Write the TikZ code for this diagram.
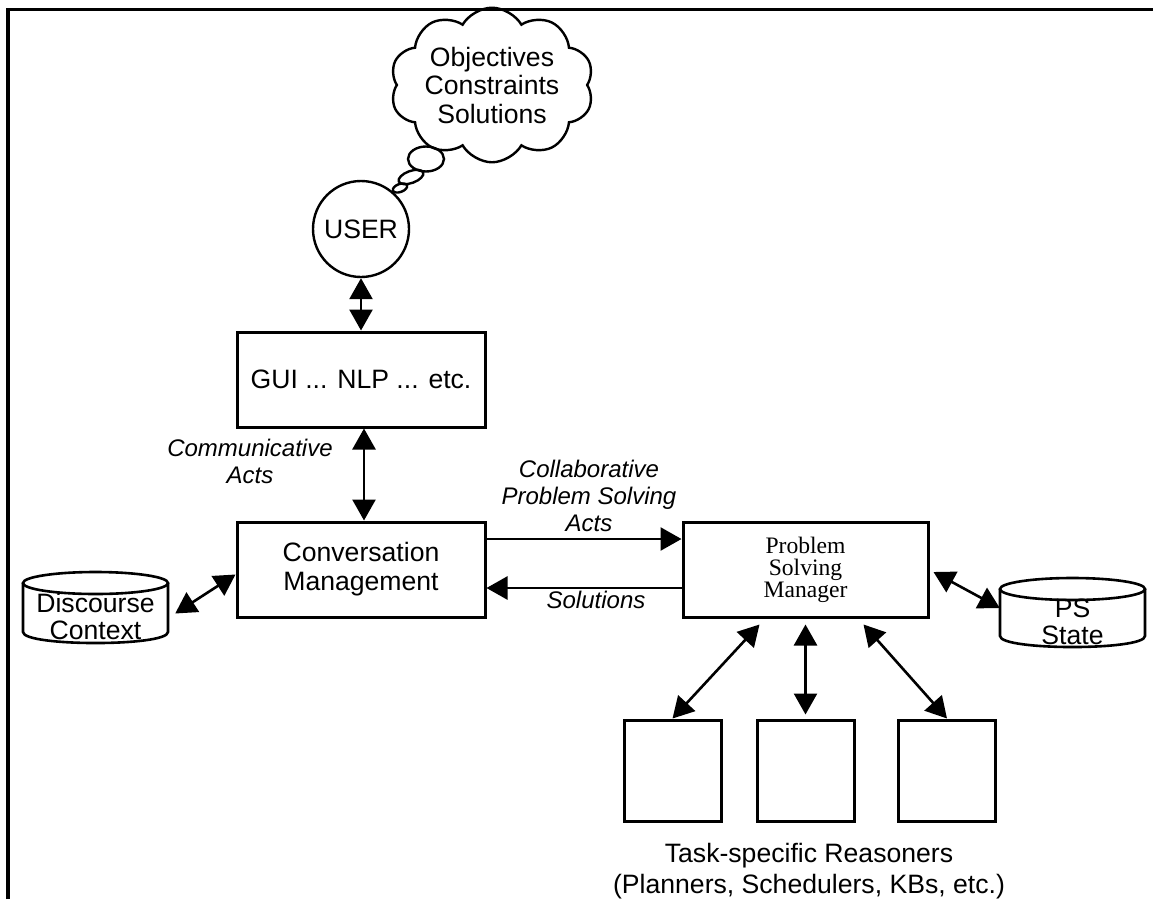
\documentclass[tikz,border=0pt]{standalone}
\usepackage{fontspec}
\setmainfont{Liberation Sans}
\newfontfamily\psmfont{Liberation Serif}
\usetikzlibrary{arrows.meta,calc,shapes.geometric,shapes.symbols}

\tikzset{
  box/.style={draw, line width=3pt, minimum width=248pt, minimum height=95pt, align=center, font=\fontsize{26.6}{29}\selectfont},
  reasoner/.style={draw, line width=3pt, minimum width=97pt, minimum height=101pt},
  store/.style={minimum width=145pt, minimum height=54pt, align=center, font=\fontsize{26.6}{27}\selectfont},
  can/.style={line width=2.6pt},
  act/.style={align=center, font=\fontsize{24}{27}\selectfont\itshape},
  link/.style={line width=2.6pt, {Triangle[length=21pt,width=23pt]}-{Triangle[length=21pt,width=23pt]}},
  oneway/.style={line width=2.6pt, -{Triangle[length=21pt,width=23pt]}},
  bubble/.style={draw, ellipse, line width=2.4pt, inner sep=0pt},
}

\begin{document}
\begin{tikzpicture}[x=1pt, y=-1pt]
			%%%%% START %%%%%
			\useasboundingbox (0,0) rectangle (1153,899);
			
			\draw[line width=3.2pt] (8,899) -- (8,9.5) -- (1153,9.5);
			
			\node[cloud, draw, line width=2.4pt, cloud puffs=10, cloud puff arc=120, aspect=1.5, inner sep=0pt, minimum width=190pt, minimum height=118pt, align=center, font=\fontsize{26.6}{28.5}\selectfont] (idea) at (492,85) {Objectives\\Constraints\\Solutions};
			\node[bubble, minimum width=36pt, minimum height=25pt] (b1) at (426,159) {};
			\node[bubble, minimum width=26pt, minimum height=12pt, rotate=20] (b2) at (411,177) {};
			\node[bubble, minimum width=15pt, minimum height=8pt, rotate=20] (b3) at (400,188) {};
			
			\node[draw, circle, line width=2.4pt, minimum size=96pt, font=\fontsize{26.6}{29}\selectfont] (user) at (361,229) {USER};
			\node[box] (gui) at (361,379.5) {GUI ... NLP ... etc.};
			\node[box] (conv) at (361,569.5) {Conversation\\Management};
			\node[box, minimum width=245pt, font=\psmfont\fontsize{23.6}{22}\selectfont] (psm) at (805.5,569.5) {Problem\\Solving\\Manager};
			
			\node[act] (comm) at (250,461.5) {Communicative\\Acts};
			\node[act] (cpsacts) at (589,496) {Collaborative\\Problem Solving\\Acts};
			\node[act] (sols) at (596,600) {Solutions};
			
			% data stores
			\draw[can] (95.5,583) ellipse [x radius=72.5, y radius=11];
			\draw[can] (23,583) -- (23,632) .. controls (23,646.7) and (168,646.7) .. (168,632) -- (168,583);
			\node[store] (disc) at (95.5,616.5) {Discourse\\Context};
			
			\draw[can] (1072.5,589) ellipse [x radius=72.5, y radius=11];
			\draw[can] (1000,589) -- (1000,636) .. controls (1000,650.7) and (1145,650.7) .. (1145,636) -- (1145,589);
			\node[store] (ps) at (1072.5,621.5) {PS\\State};
			
			% reasoners
			\node[reasoner] (r1) at (672.5,770.5) {};
			\node[reasoner] (r2) at (805.5,770.5) {};
			\node[reasoner] (r3) at (947,770.5) {};
			\node[align=center, font=\fontsize{26.6}{31}\selectfont] (tasks) at (809,871.5) {Task-specific Reasoners\\(Planners, Schedulers, KBs, etc.)};
			
			\draw[link] (user.south) -- (gui.north);
			\draw[link] ($(gui.south)+(3,0)$) -- ($(conv.north)+(3,0)$);
			\draw[link] ($(disc.east)+(7,-3)$) -- ($(conv.west)+(0,5)$);
			\draw[oneway] ($(conv.east)+(0,-30.5)$) -- ($(psm.west)+(0,-30.5)$);
			\draw[oneway] ($(psm.west)+(0,18.5)$) -- ($(conv.east)+(0,18.5)$);
			\draw[link] ($(psm.east)+(4,2.5)$) -- ($(ps.west)+(0,-13.5)$);
			\draw[link] ($(psm.south)+(-46,6)$) -- (r1.north);
			\draw[link] ($(psm.south)+(0,6)$) -- ($(r2.north)+(0,-4)$);
			\draw[link] ($(psm.south)+(58,6)$) -- (r3.north);
			
			%%%%% END %%%%%
\end{tikzpicture}
\end{document}
